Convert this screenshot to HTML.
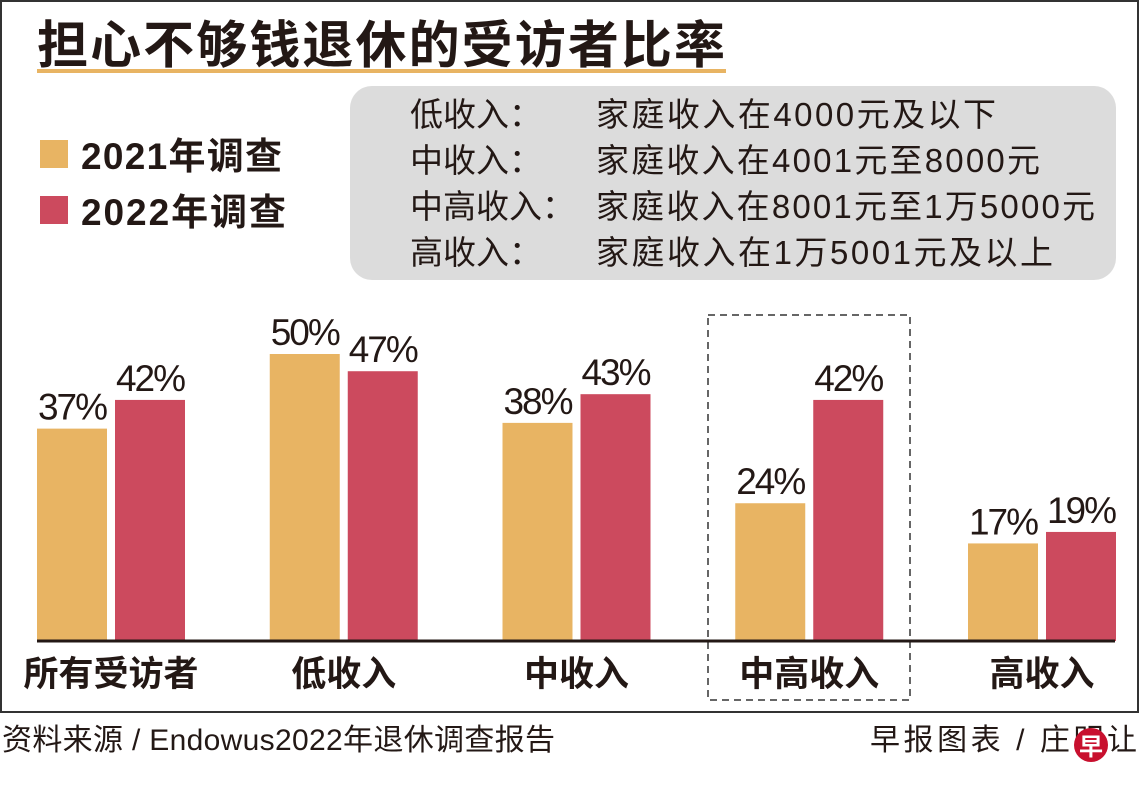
<!DOCTYPE html>
<html><head><meta charset="utf-8"><style>
html,body{margin:0;padding:0;background:#fff;}
svg{display:block;}
text{font-family:"Liberation Sans","Noto Sans CJK SC",sans-serif;}
</style></head><body>
<svg id="chart" width="1140" height="793" viewBox="0 0 1140 793" xmlns="http://www.w3.org/2000/svg">
  <rect x="1" y="1" width="1137" height="711" fill="#fff" stroke="#333" stroke-width="2"/>
  <text x="37" y="63" font-size="51" font-weight="bold" fill="#231815" textLength="688" lengthAdjust="spacing">担心不够钱退休的受访者比率</text>
  <rect x="37" y="69" width="689" height="4" fill="#e8b463"/>
  <g>
    <rect x="40" y="140" width="28" height="28" fill="#e8b463"/>
    <text x="81" y="169" font-size="37" font-weight="bold" fill="#231815" textLength="201" lengthAdjust="spacing">2021年调查</text>
    <rect x="40" y="196" width="28" height="28" fill="#cc4a5e"/>
    <text x="81" y="225" font-size="37" font-weight="bold" fill="#231815" textLength="205" lengthAdjust="spacing">2022年调查</text>
  </g>
  <g>
    <rect x="350" y="86" width="766" height="194" rx="22" fill="#dcdcdc"/>
    <g font-size="33" fill="#231815">
      <text x="410" y="126">低收入：</text>
      <text x="596" y="126" textLength="400" lengthAdjust="spacing">家庭收入在4000元及以下</text>
      <text x="410" y="172">中收入：</text>
      <text x="596" y="172" textLength="444" lengthAdjust="spacing">家庭收入在4001元至8000元</text>
      <text x="410" y="218">中高收入：</text>
      <text x="596" y="218" textLength="499" lengthAdjust="spacing">家庭收入在8001元至1万5000元</text>
      <text x="410" y="264">高收入：</text>
      <text x="596" y="264" textLength="457" lengthAdjust="spacing">家庭收入在1万5001元及以上</text>
    </g>
  </g>
  <rect x="708" y="315" width="202" height="385" fill="none" stroke="#333" stroke-width="1.5" stroke-dasharray="7,5"/>
  <g id="bars"></g>
  <line x1="37" y1="641" x2="1115" y2="641" stroke="#231815" stroke-width="3"/>
  <text x="2" y="750" font-size="30" fill="#231815" textLength="553" lengthAdjust="spacing">资料来源 / Endowus2022年退休调查报告</text>
  <text x="870" y="750" font-size="30" fill="#231815" textLength="267" lengthAdjust="spacing">早报图表 / 庄明让</text>
  <g>
    <circle cx="1091" cy="745" r="17" fill="#c8102e"/>
    <text x="1091" y="755" font-size="24" font-weight="bold" fill="#fff" text-anchor="middle">早</text>
  </g>
</svg>
<script>
const categories = ["所有受访者","低收入","中收入","中高收入","高收入"];
const values2021 = [37,50,38,24,17];
const values2022 = [42,47,43,42,19];
const valueLabels2021 = ["37%","50%","38%","24%","17%"];
const valueLabels2022 = ["42%","47%","43%","42%","19%"];

const NS = "http://www.w3.org/2000/svg";
const g = document.getElementById('bars');
const baseY = 641, pxPer = 5.74;
const x0 = 37, step = 232.75, barW = 70, gap = 8;
function yScale(v){ return baseY - v * pxPer; }
function groupX(i){ return x0 + i * step; }
function mk(tag, attrs){ const e = document.createElementNS(NS, tag); for (const k in attrs) e.setAttribute(k, attrs[k]); return e; }
categories.forEach((c, i) => {
  const gx = groupX(i);
  [[values2021, valueLabels2021, "#e8b463", 0, "2021"], [values2022, valueLabels2022, "#cc4a5e", 1, "2022"]].forEach(([vals, labs, col, k, yr]) => {
    const x = gx + k * (barW + gap);
    const y = yScale(vals[i]);
    const r = mk('rect', {x: x, y: y, width: barW, height: baseY - y, fill: col});
    
    
    g.appendChild(r);
    const t = mk('text', {x: x + barW / 2, y: y - 9, 'font-size': 37, 'text-anchor': 'middle', fill: '#231815', 'letter-spacing': '-2'});
    t.textContent = labs[i];
    
    
    g.appendChild(t);
  });
  const ct = mk('text', {x: gx + barW + gap / 2, y: 686, 'font-size': 35, 'font-weight': 'bold', 'text-anchor': 'middle', fill: '#231815'});
  ct.textContent = c;
  
  
  g.appendChild(ct);
});
</script>
</body></html>
